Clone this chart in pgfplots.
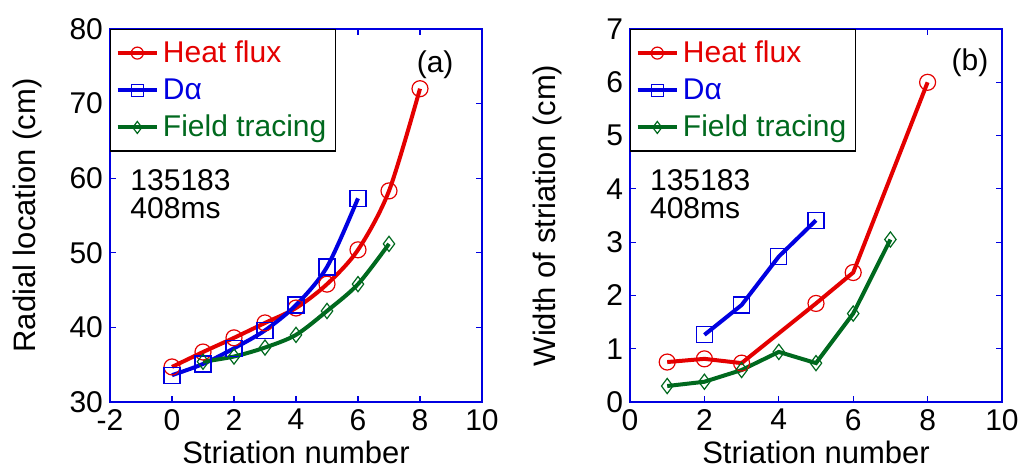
\documentclass[border=0pt]{standalone}
\usepackage{pgfplots}
\pgfplotsset{compat=1.18}
\usepackage{fontspec}
\setmainfont{Liberation Sans}
\definecolor{cred}{RGB}{228,0,0}
\definecolor{cblue}{RGB}{0,0,225}
\definecolor{cgreen}{RGB}{0,105,30}
\pgfplotsset{
  myax/.style={
    scale only axis, width=186pt, height=186.5pt,
    axis line style={cblue, line width=0.7pt},
    tick style={cblue, line width=0.6pt},
    major tick length=3pt, tick align=inside,
    ticklabel style={font=\fontsize{15}{15}\selectfont, text=black},
    label style={font=\fontsize{15.5}{15.5}\selectfont},
    /pgf/number format/assume math mode=true,
    legend cell align=left,
    legend style={at={(0,1)}, anchor=north west, draw=black, line width=0.7pt, fill=white,
      font=\fontsize{15}{15}\selectfont, row sep=2.5pt, inner xsep=2.5pt, inner ysep=3.5pt},
    legend image code/.code={\draw[mark repeat=2,mark phase=2,#1, mark size=3pt] plot coordinates {(0cm,0cm)(0.345cm,0cm)(0.69cm,0cm)};},
    clip=false,
  },
  hf/.style={cred, line width=2pt, mark=o, mark size=4pt, mark options={solid, line width=0.6pt, fill=none}},
  da/.style={cblue, line width=2pt, mark=square, mark size=4pt, mark options={solid, line width=0.6pt, fill=none}},
  ft/.style={cgreen, line width=2pt, mark=diamond, mark size=3.8pt, mark options={solid, line width=0.6pt, fill=none}},
}
\begin{document}
\begin{tikzpicture}
\useasboundingbox (-55pt,-33pt) rectangle (457pt,201pt);
\begin{axis}[myax,
  xmin=-2, xmax=10, ymin=30, ymax=80,
  xtick={-2,0,2,4,6,8,10}, ytick={30,40,50,60,70,80},
  xlabel={Striation number}, ylabel={Radial location (cm)},
  xlabel style={at={(axis description cs:0.5,-0.134)}, anchor=center},
  ylabel style={at={(axis description cs:-0.223,0.5)}, anchor=center},
]
\addplot[hf, smooth] coordinates {(0,34.7)(1,36.7)(2,38.6)(3,40.6)(4,42.6)(5,45.8)(6,50.4)(7,58.3)(8,72.0)};
\addlegendentry{\textcolor{cred}{Heat flux}}
\addplot[da, smooth] coordinates {(0,33.6)(1,35.1)(2,37.2)(3,39.6)(4,43.0)(5,48.1)(6,57.3)};
\addlegendentry{\textcolor{cblue}{Dα}}
\addplot[ft, smooth] coordinates {(1,35.4)(2,36.1)(3,37.3)(4,39.0)(5,42.2)(6,45.8)(7,51.2)};
\addlegendentry{\textcolor{cgreen}{Field tracing}}
\node[anchor=north west, align=left, font=\fontsize{15}{14}\selectfont, inner sep=0pt] at (rel axis cs:0.054,0.625) {135183\\408ms};
\node[font=\fontsize{15}{15}\selectfont] at (rel axis cs:0.874,0.903) {(a)};
\end{axis}
\begin{axis}[myax, at={(260pt,0pt)},
  xmin=0, xmax=10, ymin=0, ymax=7,
  xtick={0,2,4,6,8,10}, ytick={0,1,2,3,4,5,6,7},
  xlabel={Striation number}, ylabel={Width of striation (cm)},
  xlabel style={at={(axis description cs:0.5,-0.134)}, anchor=center},
  ylabel style={at={(axis description cs:-0.222,0.5)}, anchor=center},
]
\addplot[hf] coordinates {(1,0.75)(2,0.81)(3,0.73)(5,1.85)(6,2.43)(8,6.0)};
\addlegendentry{\textcolor{cred}{Heat flux}}
\addplot[da] coordinates {(2,1.26)(3,1.82)(4,2.73)(5,3.41)};
\addlegendentry{\textcolor{cblue}{Dα}}
\addplot[ft] coordinates {(1,0.30)(2,0.38)(3,0.60)(4,0.94)(5,0.73)(6,1.66)(7,3.05)};
\addlegendentry{\textcolor{cgreen}{Field tracing}}
\node[anchor=north west, align=left, font=\fontsize{15}{14}\selectfont, inner sep=0pt] at (rel axis cs:0.053,0.625) {135183\\408ms};
\node[font=\fontsize{15}{15}\selectfont] at (rel axis cs:0.914,0.91) {(b)};
\end{axis}
\end{tikzpicture}
\end{document}
